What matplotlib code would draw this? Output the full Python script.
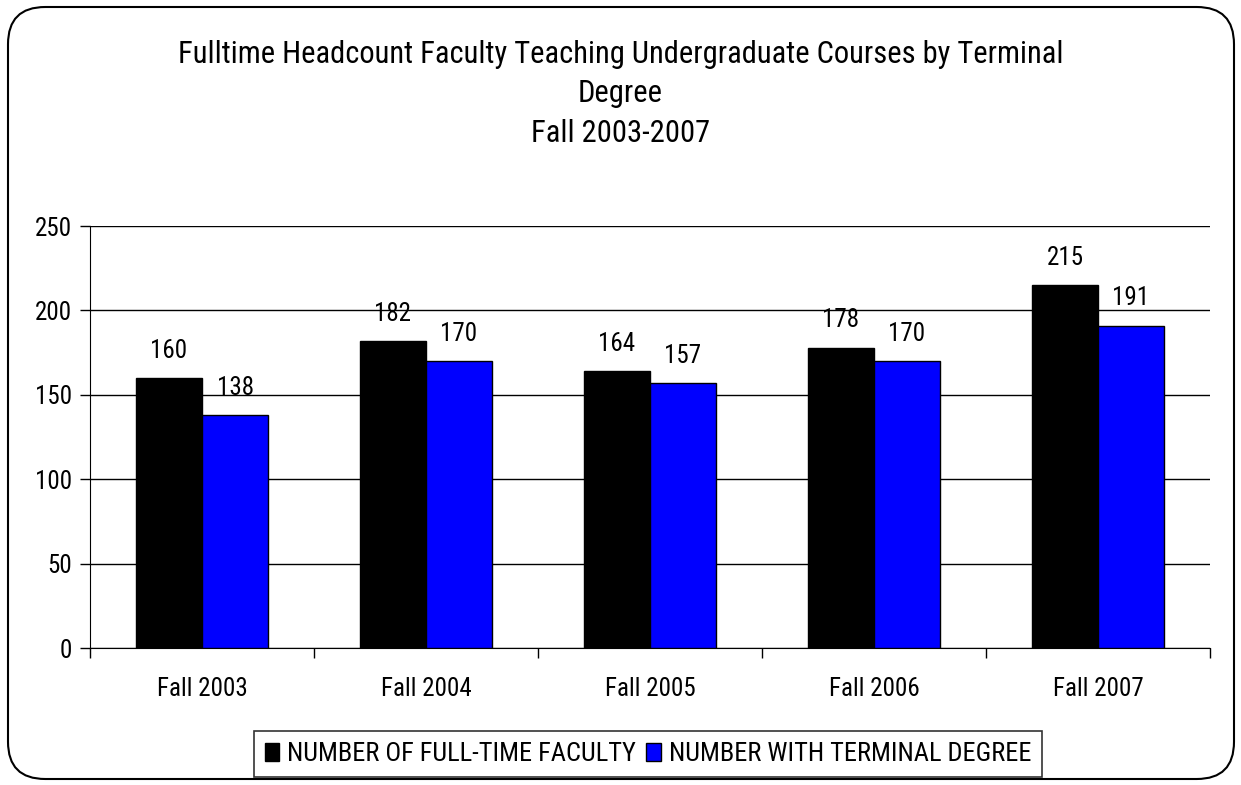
import matplotlib
matplotlib.use("Agg")
import matplotlib.pyplot as plt
from matplotlib.patches import FancyBboxPatch
from matplotlib import font_manager
import numpy as np

categories = ["Fall 2003", "Fall 2004", "Fall 2005", "Fall 2006", "Fall 2007"]
full_time = [160, 182, 164, 178, 215]
terminal = [138, 170, 157, 170, 191]
series_names = ["NUMBER OF FULL-TIME FACULTY", "NUMBER WITH TERMINAL DEGREE"]
title = "Fulltime Headcount Faculty Teaching Undergraduate Courses by Terminal\nDegree\nFall 2003-2007"

names = {f.name for f in font_manager.fontManager.ttflist}
fam = next((n for n in ["Roboto Condensed", "Archivo Narrow", "PT Sans Narrow", "Liberation Sans"] if n in names), "DejaVu Sans")
plt.rcParams['font.family'] = [fam, 'DejaVu Sans']
WT = "normal"

fig = plt.figure(figsize=(12.41, 7.85), dpi=100)
ax = fig.add_axes([90/1241, 1-648/785, 1120/1241, 422/785])

x = np.arange(len(categories))
w = 0.295
b1 = ax.bar(x - w/2, full_time, w, color="black", edgecolor="black", linewidth=1, label=series_names[0], zorder=3)
b2 = ax.bar(x + w/2, terminal, w, color="#0000FF", edgecolor="black", linewidth=1, label=series_names[1], zorder=3)

for rect, v in zip(list(b1) + list(b2), full_time + terminal):
    ax.annotate(str(v), (rect.get_x() + rect.get_width()/2, v), xytext=(0, 11),
                textcoords="offset points", ha="center", va="bottom", fontsize=18, fontweight=WT)

ax.set_xlim(-0.5, len(categories) - 0.5)
ax.set_ylim(0, 250)
ax.set_yticks(np.arange(0, 251, 50))
ax.yaxis.grid(True, color="black", linewidth=1, zorder=0)
ax.set_axisbelow(True)
ax.set_xticks(x)
ax.set_xticklabels(categories, fontsize=18, fontweight=WT)
ax.set_xticks(np.arange(-0.5, len(categories) + 0.5, 1), minor=True)
ax.tick_params(axis="x", which="major", length=0, pad=21)
ax.tick_params(axis="x", which="minor", length=7, width=1)
ax.tick_params(axis="y", length=7, width=1, labelsize=18, pad=6)
for lab in ax.get_yticklabels():
    lab.set_fontweight(WT)
for s in ["top", "right"]:
    ax.spines[s].set_visible(False)
ax.spines["left"].set_color("black")
ax.spines["bottom"].set_color("black")

fig.text(0.5, 1-94/785, title, ha="center", va="center", fontsize=22, fontweight=WT,
         linespacing=1.45)

leg = fig.legend(handles=[b1, b2], labels=series_names, loc="center", bbox_to_anchor=(648/1241, 1-754/785),
                 ncol=2, frameon=True, fancybox=False, edgecolor="black",
                 handlelength=0.55, handleheight=0.65, handletextpad=0.3, columnspacing=0.4,
                 borderpad=0.4, borderaxespad=0, prop={"weight": WT, "size": 19})
leg.get_frame().set_linewidth(1.2)

border = FancyBboxPatch((8/1241, 6/785), 1226/1241, 772/785, boxstyle="round,pad=0,rounding_size=0.03",
                        transform=fig.transFigure, fill=False, edgecolor="black", linewidth=1.5,
                        mutation_aspect=1241/785)
fig.patches.append(border)

fig.savefig("out.png", dpi=100)
